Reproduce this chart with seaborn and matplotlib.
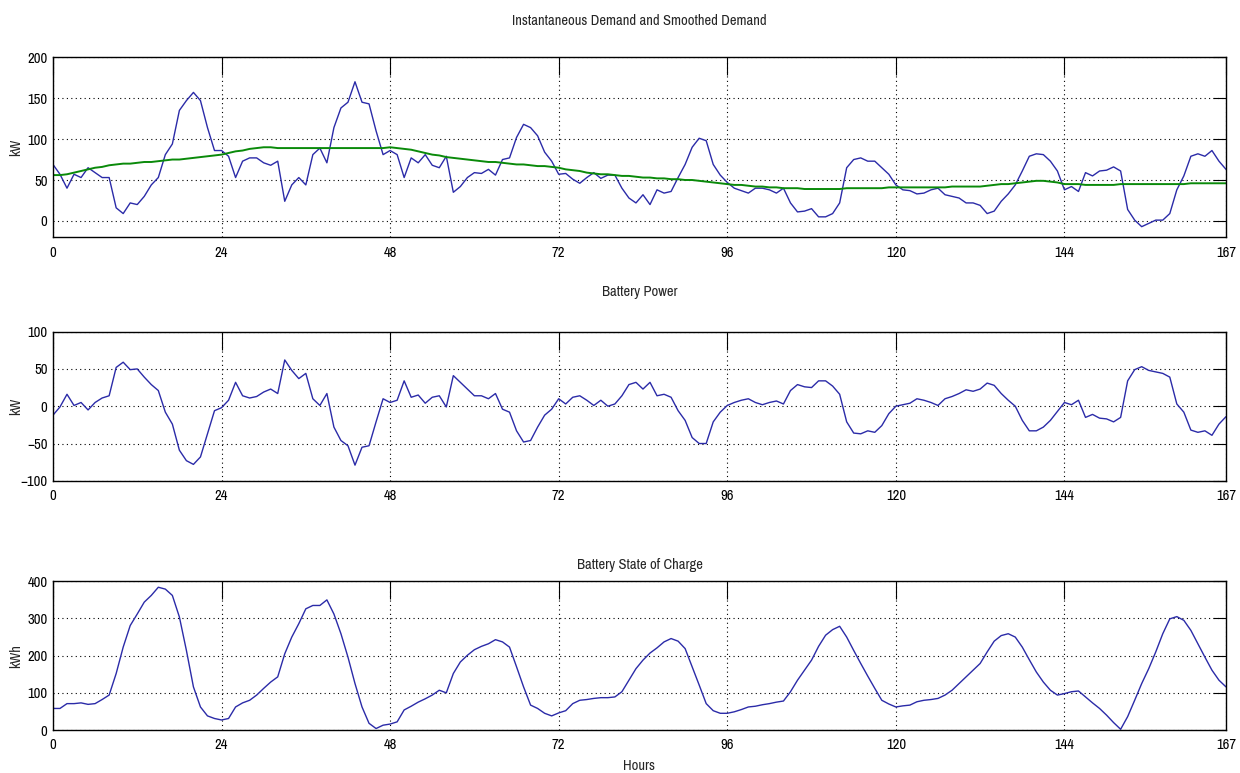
import numpy as np
import matplotlib
matplotlib.use('Agg')
import matplotlib.pyplot as plt
import seaborn as sns

# hourly values (0..167 h)
hours = list(range(168))

demand = [69, 57, 40, 57, 53, 65, 59, 53, 53, 16,
          9, 22, 20, 30, 44, 53, 81, 94, 135, 147,
          157, 147, 114, 86, 86, 79, 53, 73, 77, 77,
          71, 68, 73, 24, 44, 53, 44, 81, 89, 71,
          114, 138, 145, 170, 145, 143, 110, 81, 86, 81,
          53, 77, 71, 81, 68, 65, 79, 35, 42, 53,
          59, 58, 63, 56, 75, 77, 102, 118, 114, 104,
          84, 73, 57, 58, 51, 46, 53, 59, 52, 56,
          56, 40, 28, 22, 32, 20, 38, 34, 36, 53,
          69, 90, 101, 98, 69, 56, 47, 40, 37, 34,
          40, 40, 38, 34, 40, 22, 11, 12, 15, 5,
          5, 9, 22, 65, 75, 77, 73, 73, 65, 57,
          44, 38, 37, 33, 34, 38, 40, 32, 30, 28,
          22, 22, 19, 9, 12, 24, 33, 44, 61, 79,
          82, 81, 73, 61, 38, 42, 36, 59, 55, 61,
          62, 66, 61, 14, 1, -7, -3, 1, 1, 9,
          38, 55, 79, 82, 79, 86, 73, 63]

smoothed = [56, 56, 57, 59, 61, 63, 65, 66, 68, 69,
            70, 70, 71, 72, 72, 73, 74, 75, 75, 76,
            77, 78, 79, 80, 81, 83, 85, 86, 88, 89,
            90, 90, 89, 89, 89, 89, 89, 89, 89, 89,
            89, 89, 89, 89, 89, 89, 89, 89, 90, 89,
            88, 87, 85, 83, 81, 80, 78, 77, 76, 75,
            74, 73, 72, 72, 71, 70, 69, 69, 68, 67,
            67, 66, 65, 63, 62, 61, 59, 58, 57, 57,
            56, 55, 55, 54, 53, 53, 52, 52, 51, 51,
            50, 50, 49, 48, 47, 46, 45, 44, 44, 43,
            42, 42, 41, 41, 40, 40, 40, 39, 39, 39,
            39, 39, 39, 40, 40, 40, 40, 40, 40, 41,
            41, 41, 41, 41, 41, 41, 41, 41, 42, 42,
            42, 42, 42, 43, 44, 45, 45, 46, 47, 48,
            49, 49, 48, 47, 45, 45, 45, 44, 44, 44,
            44, 44, 45, 45, 45, 45, 45, 45, 45, 45,
            45, 45, 46, 46, 46, 46, 46, 46]

power = [-12, -1, 16, 1, 5, -5, 5, 11, 14, 52,
         59, 49, 50, 39, 29, 21, -8, -24, -59, -73,
         -78, -68, -37, -6, -2, 8, 32, 14, 11, 13,
         19, 23, 17, 62, 48, 37, 44, 10, 1, 17,
         -28, -46, -53, -79, -55, -53, -21, 10, 5, 8,
         34, 12, 15, 4, 12, 14, -1, 41, 32, 23,
         14, 14, 10, 17, -4, -8, -33, -48, -46, -28,
         -12, -4, 10, 3, 12, 14, 8, 1, 8, 0,
         3, 14, 29, 32, 23, 32, 14, 16, 12, -6,
         -19, -42, -50, -50, -21, -8, 1, 5, 8, 10,
         5, 2, 5, 7, 3, 21, 29, 26, 25, 34,
         34, 27, 16, -21, -36, -37, -33, -35, -26, -10,
         0, 2, 4, 10, 8, 5, 1, 10, 13, 17,
         22, 20, 23, 31, 28, 17, 8, 0, -19, -33,
         -33, -28, -19, -7, 5, 2, 8, -15, -11, -16,
         -17, -21, -15, 34, 49, 53, 48, 46, 44, 39,
         3, -8, -32, -35, -33, -39, -24, -14]

soc = [58, 58, 71, 71, 73, 69, 71, 82, 94, 152,
       223, 281, 312, 344, 362, 384, 379, 362, 304, 214,
       116, 62, 38, 31, 27, 31, 62, 73, 80, 94,
       112, 129, 143, 205, 250, 286, 326, 335, 335, 350,
       312, 259, 196, 125, 62, 18, 4, 13, 16, 22,
       54, 64, 75, 84, 94, 107, 100, 152, 183, 201,
       216, 225, 232, 243, 237, 223, 170, 116, 67, 58,
       45, 38, 46, 52, 71, 80, 82, 85, 87, 87,
       89, 103, 134, 165, 188, 207, 221, 237, 246, 239,
       219, 170, 121, 71, 52, 45, 45, 49, 55, 62,
       64, 68, 71, 75, 78, 103, 134, 161, 188, 225,
       255, 270, 279, 250, 214, 179, 145, 112, 80, 70,
       62, 65, 67, 76, 80, 82, 85, 94, 107, 125,
       143, 161, 179, 210, 239, 254, 259, 250, 223, 189,
       156, 129, 107, 94, 98, 103, 105, 89, 73, 58,
       40, 20, 2, 36, 80, 125, 165, 210, 259, 299,
       305, 295, 268, 232, 196, 161, 134, 116]

x_ticks = [0, 24, 48, 72, 96, 120, 144, 167]

sns.set_style('white')
plt.rcParams['font.family'] = ['Archivo Narrow', 'Liberation Sans', 'DejaVu Sans']
plt.rcParams['font.size'] = 10.5

blue = '#2b2ba8'
green = '#0a8a0a'

fig = plt.figure(figsize=(12.4, 7.73), dpi=100)
ax1 = fig.add_axes([0.0427, 0.693, 0.946, 0.233])
ax2 = fig.add_axes([0.0427, 0.378, 0.946, 0.193])
ax3 = fig.add_axes([0.0427, 0.0556, 0.946, 0.1924])

sns.lineplot(x=hours, y=demand, ax=ax1, color=blue, lw=1)
sns.lineplot(x=hours, y=smoothed, ax=ax1, color=green, lw=1.4)
sns.lineplot(x=hours, y=power, ax=ax2, color=blue, lw=1)
sns.lineplot(x=hours, y=soc, ax=ax3, color=blue, lw=1)

setup = [(ax1, (-20, 200), [0, 50, 100, 150, 200], 'kW',
          'Instantaneous Demand and Smoothed Demand', 23),
         (ax2, (-100, 100), [-100, -50, 0, 50, 100], 'kW', 'Battery Power', 26),
         (ax3, (0, 400), [0, 100, 200, 300, 400], 'kWh', 'Battery State of Charge', 8.5)]

for ax, ylim, yt, ylab, title, tpad in setup:
    ax.set_xlim(0, 167)
    ax.set_ylim(*ylim)
    ax.set_xticks(x_ticks)
    ax.set_xticklabels([str(t) for t in x_ticks])
    ax.set_yticks(yt)
    ax.grid(True, color='black', linestyle=(0, (1, 3)), linewidth=0.8)
    ax.tick_params(direction='in', top=True, right=True, width=0.8,
                   colors='black', labelsize=10.5)
    ax.tick_params(axis='x', length=13, pad=6)
    ax.tick_params(axis='y', length=9.5, pad=4)
    for s in ax.spines.values():
        s.set_visible(True)
        s.set_color('black')
        s.set_linewidth(1)
    ax.set_ylabel(ylab, fontsize=10.5)
    ax.yaxis.set_label_coords(-0.025, 0.5)
    ax.set_title(title, fontsize=10.5, pad=tpad)

ax3.set_xlabel('Hours', fontsize=10.5, labelpad=5)

fig.savefig('out.png', dpi=100)
